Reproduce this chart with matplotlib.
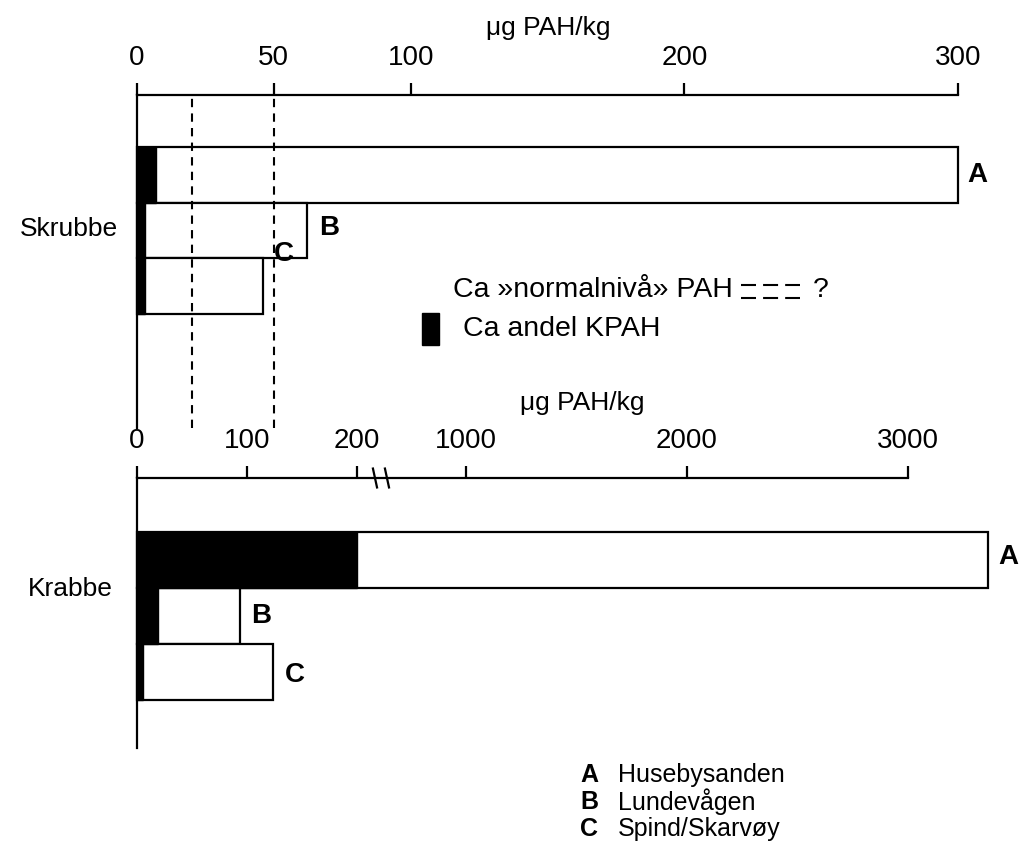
"""
PAH i skrubbe og krabbe: horisontale stolper med andel KPAH (svart) og
ca. normalnivå (stiplet), to paneler med egne skalaer.
"""
import numpy as np
import matplotlib
matplotlib.use("Agg")
import matplotlib.pyplot as plt
from matplotlib.lines import Line2D
from matplotlib.patches import Rectangle

plt.rcParams['font.family'] = ['Liberation Sans', 'DejaVu Sans']

W, H = 1022, 850

# data (µg PAH/kg)
stations = ["A", "B", "C"]
station_names = ["Husebysanden", "Lundevågen", "Spind/Skarvøy"]

skrubbe_total = [300, 62, 46]
skrubbe_kpah = [7, 3, 3]
normal_level = [20, 50]
skrubbe_ticks = [0, 50, 100, 200, 300]

krabbe_total = [3360, 94, 124]
krabbe_kpah = [200, 19, 5]
krabbe_ticks = [0, 100, 200, 1000, 2000, 3000]


def fx(px):
    return px / W


def fy(py):
    return 1 - py / H


# broken axis for krabbe: 0-200 stretched, 1000-3000 compressed
def brk_fwd(v):
    v = np.asarray(v, dtype=float)
    return np.where(v <= 200, 1.1 * v,
                    np.where(v <= 1000, 220 + (v - 200) * 109 / 800,
                             329 + (v - 1000) * 0.221))


def brk_inv(u):
    u = np.asarray(u, dtype=float)
    return np.where(u <= 220, u / 1.1,
                    np.where(u <= 329, 200 + (u - 220) * 800 / 109,
                             1000 + (u - 329) / 0.221))


def style_axis(ax, ticks):
    for s in ("bottom", "right"):
        ax.spines[s].set_visible(False)
    for s in ("top", "left"):
        ax.spines[s].set_linewidth(1.6)
    ax.xaxis.tick_top()
    ax.set_xticks(ticks)
    ax.set_xticklabels([str(t) for t in ticks])
    ax.tick_params(axis="x", direction="out", length=9, width=1.6,
                   pad=8, labelsize=20)
    ax.set_yticks([])


def draw_bars(ax, total, kpah, offsets, fs=20):
    y = np.arange(len(stations))
    ax.barh(y, total, height=1.0, left=0, color="white", edgecolor="black",
            linewidth=1.6, clip_on=False, zorder=2)
    ax.barh(y, kpah, height=1.0, left=0, color="black", edgecolor="black",
            linewidth=1.0, clip_on=False, zorder=3)
    for i, lab in enumerate(stations):
        ax.annotate(lab, xy=(total[i], y[i]), xytext=offsets[i],
                    textcoords="offset points", ha="left", va="center",
                    fontsize=fs, fontweight="bold", annotation_clip=False)


fig = plt.figure(figsize=(W / 100, H / 100), dpi=100)

# top panel: skrubbe
ax1 = fig.add_axes([fx(137), fy(428), fx(958) - fx(137), fy(95) - fy(428)])
ax1.set_xlim(0, 300)
ax1.set_ylim(4.56, -1.44)
style_axis(ax1, skrubbe_ticks)
draw_bars(ax1, skrubbe_total, skrubbe_kpah, [(7, 0), (9, 2), (8, 23)])
for v in normal_level:
    ax1.axvline(v, ymin=0, ymax=1, color="black", lw=1.5,
                linestyle=(0, (4, 3)), zorder=4)

# bottom panel: krabbe
ax2 = fig.add_axes([fx(137), fy(748), fx(908) - fx(137), fy(478) - fy(748)])
ax2.set_xscale("function", functions=(brk_fwd, brk_inv))
ax2.set_xlim(0, 3000)
ax2.set_ylim(3.36, -1.46)
style_axis(ax2, krabbe_ticks)
draw_bars(ax2, krabbe_total, krabbe_kpah, [(8, 2), (8, 0), (8, -2)])
# break marks on the axis
for xb in (332, 420):
    ax2.plot([xb - 15, xb + 15], [1.035, 0.965], color="black", lw=1.6,
             transform=ax2.get_xaxis_transform(), clip_on=False)

# axis titles
fig.text(fx(548), fy(28), "μg PAH/kg", ha="center", va="center", fontsize=19)
fig.text(fx(582), fy(403), "μg PAH/kg", ha="center", va="center", fontsize=19)

# category labels
fig.text(fx(118), fy(229), "Skrubbe", ha="right", va="center", fontsize=19)
fig.text(fx(113), fy(589), "Krabbe", ha="right", va="center", fontsize=19)

# legend inside top panel
fig.text(fx(453), fy(290), "Ca »normalnivå» PAH", ha="left", va="center",
         fontsize=20.5)
for yy in (285, 298):
    fig.add_artist(Line2D([fx(741), fx(800)], [fy(yy), fy(yy)], color="black",
                          lw=1.5, linestyle=(0, (7.2, 3.4))))
fig.text(fx(813), fy(290), "?", ha="left", va="center", fontsize=20.5)
fig.add_artist(Rectangle((fx(422), fy(345)), fx(439) - fx(422),
                         fy(313) - fy(345), color="black",
                         transform=fig.transFigure))
fig.text(fx(463), fy(329), "Ca andel KPAH", ha="left", va="center",
         fontsize=20.5)

# station legend
for i, (lab, name) in enumerate(zip(stations, station_names)):
    yy = 775 + 27 * i
    fig.text(fx(580), fy(yy), lab, ha="left", va="center", fontsize=18,
             fontweight="bold")
    fig.text(fx(618), fy(yy), name, ha="left", va="center", fontsize=18)

fig.savefig("out.png", dpi=100)
